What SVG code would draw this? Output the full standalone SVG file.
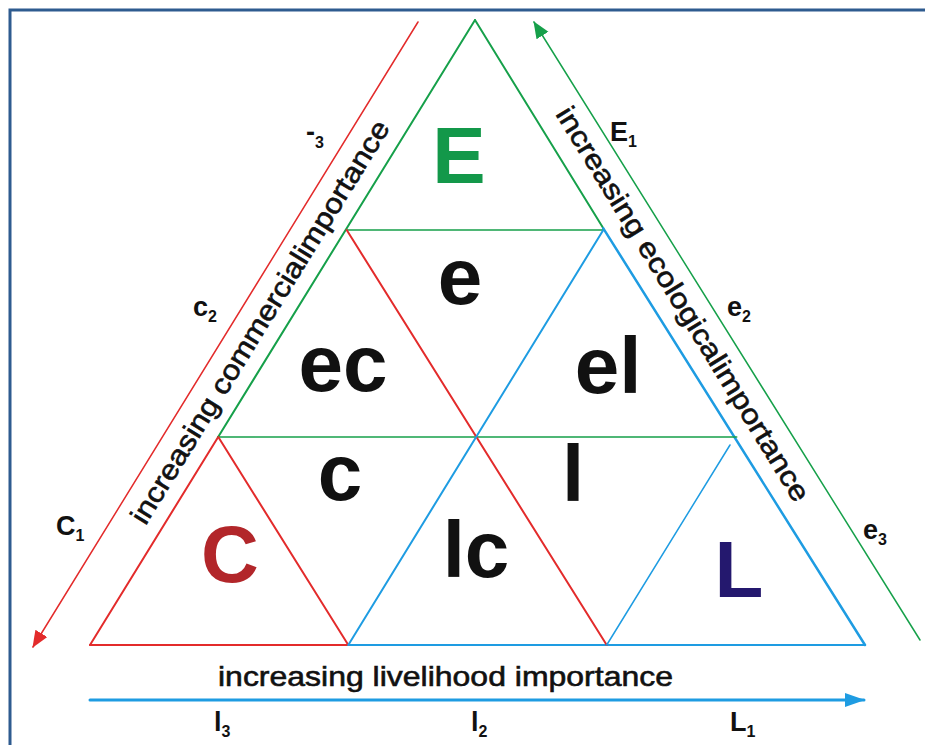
<svg xmlns="http://www.w3.org/2000/svg" width="925" height="745" viewBox="0 0 925 745">
<defs>
<style>
.big{font-family:"Liberation Sans",Arial,sans-serif;font-weight:bold;font-size:80px;fill:#111;text-anchor:middle}
.lab{font-family:"Liberation Sans",Arial,sans-serif;font-weight:bold;font-size:27px;fill:#111}
.sub{font-size:16px}
.axis{font-family:"Liberation Sans",Arial,sans-serif;font-size:28px;fill:#111;stroke:#111;stroke-width:0.6}
.r{stroke:#E32B2B;fill:none;stroke-linecap:round}
.g{stroke:#16A04A;fill:none;stroke-linecap:round}
.b{stroke:#1E9CE2;fill:none;stroke-linecap:round}
</style>
<marker id="ar" markerUnits="userSpaceOnUse" markerWidth="20" markerHeight="16" refX="16" refY="7" orient="auto"><path d="M0,0 L17,7 L0,14 Z" fill="#E32B2B"/></marker>
<marker id="ag" markerUnits="userSpaceOnUse" markerWidth="20" markerHeight="16" refX="16" refY="7" orient="auto"><path d="M0,0 L17,7 L0,14 Z" fill="#16A04A"/></marker>
<marker id="ab" markerUnits="userSpaceOnUse" markerWidth="22" markerHeight="16" refX="19" refY="7" orient="auto"><path d="M0,0 L20,7 L0,14 Z" fill="#1E9CE2"/></marker>
</defs>
<rect x="0" y="0" width="925" height="745" fill="#fff"/>
<rect x="10" y="10" width="930" height="760" fill="none" stroke="#2E5B8F" stroke-width="3"/>

<g id="connectors">
<line class="r" x1="90" y1="645" x2="218.3" y2="436.7" stroke-width="2"/>
<line class="g" x1="218.3" y1="436.7" x2="475" y2="20" stroke-width="2"/>
<line class="g" x1="475" y1="20" x2="603.3" y2="228.3" stroke-width="2"/>
<line class="b" x1="603.3" y1="228.3" x2="865" y2="645" stroke-width="2.5"/>
<line class="r" x1="90" y1="645" x2="348.3" y2="645" stroke-width="2"/>
<line class="b" x1="348.3" y1="645" x2="865" y2="645" stroke-width="2"/>
<line class="g" x1="346.7" y1="230" x2="603.3" y2="230" stroke-width="1.6"/>
<line class="g" x1="218.3" y1="437" x2="736.7" y2="437" stroke-width="1.6"/>
<line class="r" x1="346.7" y1="230" x2="606.7" y2="645" stroke-width="2"/>
<line class="r" x1="218.3" y1="437" x2="348.3" y2="645" stroke-width="2"/>
<line class="b" x1="603.3" y1="230" x2="348.3" y2="645" stroke-width="2"/>
<line class="b" x1="730" y1="445" x2="606.7" y2="645" stroke-width="1.5"/>
<line class="r" x1="418" y1="22" x2="33" y2="647" stroke-width="1.5" marker-end="url(#ar)"/>
<line class="g" x1="920" y1="640" x2="534" y2="22" stroke-width="1.5" marker-end="url(#ag)"/>
<line class="b" x1="90" y1="700" x2="864" y2="700" stroke-width="3" marker-end="url(#ab)"/>
</g>

<g id="node-E"><text class="big" x="459" y="183" style="fill:#13984A">E</text></g>
<g id="node-e"><text class="big" x="460" y="304">e</text></g>
<g id="node-ec"><text class="big" x="343" y="391">ec</text></g>
<g id="node-el"><text class="big" x="608" y="393">el</text></g>
<g id="node-c"><text class="big" x="340" y="500">c</text></g>
<g id="node-l"><text class="big" x="573" y="501">l</text></g>
<g id="node-lc"><text class="big" x="476" y="577">lc</text></g>
<g id="node-C"><text class="big" x="230" y="582" style="fill:#B2262A">C</text></g>
<g id="node-L"><text class="big" x="739" y="597" style="fill:#24186E">L</text></g>

<g id="axis-labels">
<text class="axis" transform="translate(268,327) rotate(-58.4)" text-anchor="middle" textLength="468" lengthAdjust="spacingAndGlyphs">increasing commercialimportance</text>
<text class="axis" transform="translate(675,309) rotate(58.4)" text-anchor="middle" textLength="458" lengthAdjust="spacingAndGlyphs">increasing ecologicalimportance</text>
<text class="axis" x="218" y="686" textLength="455" lengthAdjust="spacingAndGlyphs">increasing livelihood importance</text>
</g>

<g id="scale-labels">
<text class="lab" x="610" y="141">E<tspan class="sub" dy="6">1</tspan></text>
<text class="lab" x="727" y="316">e<tspan class="sub" dy="6">2</tspan></text>
<text class="lab" x="863" y="539">e<tspan class="sub" dy="6">3</tspan></text>
<text class="lab" x="56" y="535">C<tspan class="sub" dy="6">1</tspan></text>
<text class="lab" x="193" y="316">c<tspan class="sub" dy="6">2</tspan></text>
<text class="lab" x="306" y="141">-<tspan class="sub" dy="7">3</tspan></text>
<text class="lab" x="214" y="731">l<tspan class="sub" dy="6">3</tspan></text>
<text class="lab" x="471" y="731">l<tspan class="sub" dy="6">2</tspan></text>
<text class="lab" x="730" y="731">L<tspan class="sub" dy="6">1</tspan></text>
</g>
</svg>
